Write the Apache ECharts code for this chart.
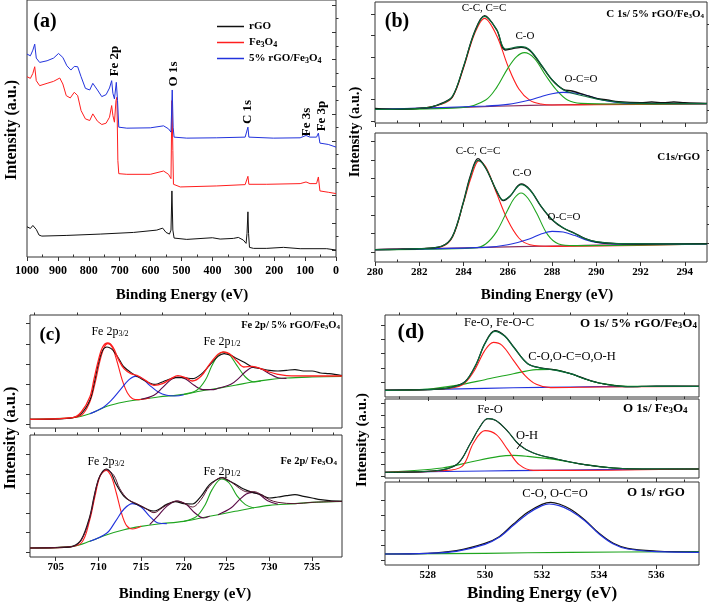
<!DOCTYPE html>
<html><head><meta charset="utf-8">
<script src="https://cdn.jsdelivr.net/npm/echarts@6/dist/echarts.min.js"></script>
<style>html,body{margin:0;padding:0;background:#fff}#c{width:709px;height:603px}</style>
</head><body><div id="c"></div>
<script>
// ===== (a) XPS survey spectra: [binding energy (eV), intensity (a.u.)] =====
const surveyRGO = [[1000,91],[989,86],[981,95],[975,99],[970,83],[961,66],[952,63],[871,65],[763,69],[655,74],[580,81],[561,87],[550,74],[539,69],[534,81],[531,199],[528,81],[524,57],[483,53],[400,58],[375,54],[332,56],[316,59],[300,51],[291,41],[288,71],[285,136],[283,71],[280,29],[267,26],[224,26],[170,29],[116,25],[30,25],[0,21]];
const surveyFe3O4 = [[1000,543],[989,538],[981,553],[975,573],[970,531],[959,516],[935,523],[914,529],[894,539],[884,521],[873,486],[860,479],[847,496],[836,486],[825,441],[811,416],[797,411],[787,431],[781,433],[772,409],[758,399],[744,403],[733,421],[726,456],[722,426],[717,406],[712,471],[709,481],[706,291],[703,251],[677,249],[601,249],[558,259],[542,249],[534,236],[531,471],[528,321],[526,219],[504,211],[386,214],[294,218],[289,221],[285,243],[282,219],[224,219],[116,221],[97,226],[84,221],[63,221],[57,241],[52,199],[25,195],[19,199],[0,191]];
const survey5 = [[1000,611],[989,606],[981,623],[975,641],[970,599],[959,586],[935,591],[914,599],[898,613],[884,601],[871,576],[858,563],[847,574],[836,573],[825,543],[811,508],[797,503],[787,523],[781,526],[772,503],[758,483],[744,489],[733,509],[726,531],[722,493],[717,476],[711,526],[707,471],[703,391],[677,388],[601,389],[558,395],[542,386],[534,376],[530,503],[527,391],[524,361],[483,358],[386,359],[294,361],[289,363],[285,391],[282,361],[203,358],[116,359],[97,366],[84,361],[63,361],[57,373],[52,343],[25,339],[0,331]];
const surveyNames = ['rGO','Fe3O4','5% rGO/Fe3O4'];

// ===== (b) C 1s =====
const c1sCompRaw = [[280,44],[281,41],[282,44],[282.5,47],[283,59],[283.5,79],[284,169],[284.5,274],[284.95,322],[285.5,279],[285.9,219],[286.6,227],[287,217],[287.5,174],[288,129],[288.5,101],[288.9,96],[289.5,84],[290,74],[290.5,69],[291,64],[292,61],[292.5,63],[293,61],[293.5,63],[294,61],[295,59]];
const c1sCompFit = [[280,41],[282,44],[283,57],[283.5,80],[284,170],[284.5,272],[284.95,320],[285.5,280],[285.9,222],[286.6,229],[287,219],[287.5,176],[288,130],[288.5,100],[289,88],[289.5,80],[290,72],[291,62],[292,59],[295,58]];
const c1sCompCC = [[280,41],[282,44],[283,56],[283.5,77],[284,165],[284.5,268],[284.95,314],[285.5,262],[286,172],[286.5,102],[287,68],[287.5,57],[288,54],[290,55],[295,57]];
const c1sCompCO = [[280,41],[284,47],[285,69],[285.5,107],[286,164],[286.4,199],[286.75,211],[287.2,194],[287.7,144],[288.2,99],[288.7,69],[289.3,59],[291,57],[295,58]];
const c1sCompOCO = [[280,41],[285,51],[286,56],[287,69],[287.5,79],[288,88],[288.5,92],[289,90],[289.5,84],[290,74],[290.5,66],[291.5,59],[295,58]];
const c1sCompBg = [[280,41],[284,47],[287,53],[290,56],[295,58]];
const c1sRgoRaw = [[280,37],[281,38],[282,40],[283,47],[283.5,77],[284,182],[284.3,257],[284.65,310],[285,282],[285.5,212],[285.8,184],[286.1,197],[286.6,234],[287,217],[287.5,167],[288,127],[288.5,102],[289,87],[289.5,70],[290,60],[291,55],[292,54],[295,55]];
const c1sRgoFit = [[280,37],[282,40],[283,47],[283.5,76],[284,180],[284.3,254],[284.65,305],[285,282],[285.5,213],[285.8,186],[286.1,198],[286.6,232],[287,216],[287.5,168],[288,128],[288.5,103],[289,86],[289.5,70],[290,61],[291,55],[295,54]];
const c1sRgoCC = [[280,37],[282,40],[283,46],[283.5,74],[284,178],[284.35,255],[284.7,304],[285.05,280],[285.5,205],[286,125],[286.5,72],[287,52],[288,47],[295,54]];
const c1sRgoCO = [[280,37],[284.5,42],[285,54],[285.5,92],[286,157],[286.3,192],[286.6,207],[286.9,192],[287.3,147],[287.8,82],[288.3,54],[289,49],[295,54]];
const c1sRgoOCO = [[280,37],[285,44],[286,52],[287,70],[287.5,84],[288,92],[288.5,90],[289,80],[289.5,67],[290,59],[291,54],[295,54]];
const c1sRgoBg = [[280,37],[285,44],[288,48],[290,51],[295,54]];

// ===== (c) Fe 2p =====
const fe2pCompRaw = [[702,26],[705,27],[707,31],[708,43],[709,83],[709.5,133],[710,193],[710.5,233],[711,243],[711.5,238],[712,223],[712.5,203],[713,183],[714,163],[715,148],[716,135],[716.5,131],[717,133],[718,143],[719,151],[720,151],[721,148],[722,161],[723,188],[724,215],[724.7,223],[725.5,218],[726,211],[727,198],[728,183],[729,178],[730,173],[731,171],[732,173],[733,175],[734,171],[735,171],[736,165],[737,163],[738.5,157]];
const fe2pCompFit = [[702,26],[707,31],[708,48],[709,93],[709.5,148],[710,203],[710.5,243],[711.1,255],[711.7,243],[712.3,208],[713,178],[713.8,163],[714.5,158],[715.5,143],[716.5,128],[717.5,133],[718.5,148],[719.3,157],[720.2,151],[721,141],[722,155],[723,191],[724,221],[724.6,228],[725.3,223],[726.2,201],[727,183],[728,185],[729,178],[730,168],[731,161],[732,157],[735,156],[738.5,156]];
const fe2pCompP1 = [[702,26],[706,29],[708,38],[709,78],[709.6,133],[710.2,203],[710.7,243],[711.1,253],[711.6,243],[712.2,198],[712.8,143],[713.4,105],[714,88],[714.7,85],[716,90]];
const fe2pCompP2 = [[709,43],[710.5,61],[711.5,83],[712.5,113],[713.5,143],[714.3,155],[715,151],[716,128],[717,108],[718,98],[719,96],[720,100]];
const fe2pCompP3 = [[715,86],[716.5,98],[717.5,121],[718.5,145],[719.3,153],[720.2,147],[721.2,128],[722.2,115],[723.5,115],[724,119]];
const fe2pCompP4 = [[720,101],[721.5,113],[722.5,143],[723.3,188],[724,218],[724.6,228],[725.3,221],[726.2,188],[727.2,153],[728.2,138],[729,141]];
const fe2pCompP5 = [[724,119],[725.5,131],[726.5,151],[727.3,171],[728.2,183],[729,178],[730,163],[731,151],[732,149]];
const fe2pCompBg = [[702,26],[707,31],[709,43],[711,65],[713,78],[715,86],[717,93],[720,101],[722,111],[724,119],[726,128],[728,138],[730,145],[732,150],[735,153],[738.5,155]];
const fe2pFeRaw = [[702,27],[706,29],[707,32],[708,52],[709,122],[709.5,182],[710,232],[710.5,257],[710.9,264],[711.5,252],[712,222],[713,182],[714,164],[715,152],[716,140],[716.5,138],[717,142],[718,158],[719,166],[720,160],[721,159],[722,182],[723,217],[724,234],[724.5,238],[725,232],[726,219],[727,204],[728,194],[729,187],[730,177],[731,180],[732,184],[733,187],[734,182],[735,177],[736,172],[737,169],[738.5,167]];
const fe2pFeFit = [[702,27],[707,32],[708,50],[709,118],[710,232],[710.9,262],[711.8,245],[712.5,205],[713.5,172],[714.5,160],[715.5,146],[716.5,133],[717.5,148],[718.5,163],[719.2,168],[720,162],[721,150],[722,172],[723,212],[724.4,238],[725.5,226],[726.5,206],[727.5,195],[728.2,196],[729,188],[730,172],[731,164],[733,160],[735,164],[738.5,167]];
const fe2pFeP1 = [[702,27],[706,29],[708,42],[709,112],[709.6,182],[710.2,242],[710.9,260],[711.5,242],[712.1,192],[712.7,132],[713.3,94],[714,84],[715,92]];
const fe2pFeP2 = [[709,47],[711,72],[712,107],[713,144],[714,160],[715,150],[716,122],[717,102],[718,100]];
const fe2pFeP3 = [[716,97],[717,124],[718,152],[719.2,168],[720.3,157],[721.3,132],[722.3,117],[723,122]];
const fe2pFeP4 = [[720,107],[721.5,122],[722.5,157],[723.3,202],[724.4,234],[725.3,222],[726.2,184],[727.2,157],[728.2,147]];
const fe2pFeP5 = [[724,127],[725.5,147],[726.5,172],[727.3,189],[728,194],[728.8,188],[729.8,169],[731,158]];
const fe2pFeBg = [[702,27],[707,32],[709,47],[711,67],[713,82],[715,92],[717,99],[720,107],[722,117],[724,127],[726,137],[728,147],[730,155],[733,160],[735,164],[738.5,167]];

// ===== (d) O 1s =====
const o1sCompRaw = [[526.5,21],[528,22],[528.8,29],[529.3,46],[529.7,99],[530,161],[530.35,199],[530.7,183],[531,151],[531.5,100],[532,87],[532.5,81],[533,70],[533.5,55],[534,42],[534.5,35],[535,31],[536,33],[537.5,32]];
const o1sCompFit = [[526.5,20],[528,22],[528.8,28],[529.3,45],[529.7,100],[530,160],[530.35,197],[530.7,182],[531,150],[531.5,100],[532,86],[532.5,80],[533,70],[533.5,54],[534,42],[534.5,34],[535,31],[536,32],[537.5,32]];
const o1sCompP1 = [[526.5,20],[528.5,24],[529.2,36],[529.6,75],[530,140],[530.3,164],[530.6,155],[531,110],[531.4,65],[531.8,38],[532.3,28],[534,30],[537.5,32]];
const o1sCompP2 = [[526.5,20],[528,24],[529,35],[530,52],[531,70],[531.8,82],[532.3,83],[533,70],[533.5,54],[534,42],[535,32],[537.5,32]];
const o1sCompBg = [[526.5,20],[530,26],[532,29],[534,31],[537.5,32]];
const o1sFeFit = [[526.5,17],[528,20],[529,40],[529.5,105],[529.8,150],[530.1,178],[530.4,172],[530.8,140],[531.2,100],[531.7,75],[532.5,57],[533.5,40],[534.5,30],[535.5,27],[537.5,27]];
const o1sFeP1 = [[526.5,17],[528.5,22],[529.2,35],[529.6,105],[530,142],[530.4,130],[530.8,85],[531.2,40],[531.7,23],[533,23],[537.5,27]];
const o1sFeP2 = [[526.5,17],[528.5,30],[529.5,48],[530.5,65],[531,68],[531.5,65],[532.5,55],[533.5,40],[534.5,30],[535.5,27],[537.5,27]];
const o1sFeBg = [[526.5,17],[530,21],[532,23],[534,25],[537.5,27]];
const o1sRgoRaw = [[526.5,33],[528,35],[529,43],[530,65],[530.5,85],[531,123],[531.5,158],[532,182],[532.3,188],[532.6,183],[533,167],[533.5,135],[534,95],[534.5,65],[535,50],[536,42],[537.5,38]];
const o1sRgoP = [[526.5,33],[528,35],[529,41],[530,62],[530.5,83],[531,119],[531.5,154],[532,178],[532.25,183],[532.6,178],[533,163],[533.5,133],[534,93],[534.5,63],[535,48],[536,40],[537.5,38]];
const o1sRgoBg = [[526.5,33],[530,35],[533,38],[537.5,40]];

// ===== styling / layout =====
const SERIF = "'Liberation Serif','Times New Roman',serif";
const FRAME = '#333';
const C = {black:'#111', red:'#ff1e1e', blue:'#2233dd', green:'#1fa51f', dgreen:'#0a6a3a', purple:'#5a0a46', bg:'#8a3060', maroon:'#5a1430'};
function seq(a, step, n){ const r=[]; for(let k=0;k<n;k++) r.push(+(a+step*k).toFixed(2)); return r; }

const grids=[], xAxes=[], yAxes=[], series=[], graphic=[];
function addPanel(p){
  const gi = grids.length;
  grids.push({left:p.left, top:p.top, width:p.width, height:p.height, show:true, borderColor:FRAME, borderWidth:1, backgroundColor:'rgba(0,0,0,0)'});
  const ymax = p.height*3;
  const xb = {type:'value', gridIndex:gi, min:p.x[0], max:p.x[1], inverse:!!p.inv, splitLine:{show:false}, axisLine:{show:false}};
  const yb = {type:'value', gridIndex:gi, min:0, max:ymax, splitLine:{show:false}, axisLine:{show:false}};
  const xi = xAxes.length, yi = yAxes.length;
  xAxes.push(Object.assign({}, xb, {axisTick:{show:true, length:4, lineStyle:{color:FRAME}, customValues:p.xmaj},
    axisLabel:{show:!!p.labels, customValues:p.xmaj, formatter:v=>String(v), fontFamily:SERIF, fontWeight:'bold', fontSize:p.xfs||11, color:'#000', margin:p.xm||5}}));
  if (p.xmin) xAxes.push(Object.assign({}, xb, {axisTick:{show:true, length:2.5, lineStyle:{color:FRAME}, customValues:p.xmin}, axisLabel:{show:false}}));
  yAxes.push(Object.assign({}, yb, {axisTick:{show:true, length:4, lineStyle:{color:FRAME}, customValues:p.ymaj}, axisLabel:{show:false}}));
  if (p.ymin) yAxes.push(Object.assign({}, yb, {axisTick:{show:true, length:2.5, lineStyle:{color:FRAME}, customValues:p.ymin}, axisLabel:{show:false}}));
  return {xi, yi};
}
function line(ax, data, color, o={}){
  series.push({type:'line', name:o.name, xAxisIndex:ax.xi, yAxisIndex:ax.yi, data, symbol:'none',
    smooth:o.smooth===undefined?0.35:o.smooth, lineStyle:{color, width:o.w||1.1}, itemStyle:{color}, z:o.z||2, silent:true, animation:false});
}
function txt(x, y, text, o={}){
  const fs = o.fs||12;
  graphic.push({type:'text', x, y, rotation:o.rot||0, z:100, silent:true,
    style:{text, fontSize:fs, fontFamily:SERIF, fontWeight:o.bold?'bold':'normal', fill:'#000',
      align:o.align||'center', verticalAlign:'middle', textAlign:o.align||'center', textVerticalAlign:'middle',
      rich:{s:{fontSize:Math.round(fs*0.68), fontFamily:SERIF, fontWeight:o.bold?'bold':'normal', verticalAlign:'bottom'}}}});
}

// (a)
const A = addPanel({left:27, top:-1, width:309, height:258, x:[0,1000], inv:true,
  xmaj:seq(0,100,11), xmin:seq(50,100,10), labels:true, xfs:12, xm:8,
  ymaj:seq(21,82,10), ymin:seq(62,82,9)});
line(A, surveyRGO, C.black, {name:surveyNames[0], smooth:false, w:1});
line(A, surveyFe3O4, C.red, {name:surveyNames[1], smooth:false, w:1});
line(A, survey5, C.blue, {name:surveyNames[2], smooth:false, w:1});
// (b)
const B1 = addPanel({left:375, top:2, width:332, height:121, x:[280,295], xmaj:seq(280,2,8), xmin:seq(281,2,7),
  ymaj:seq(6,64.2,6), ymin:seq(38,64.2,5)});
const B2 = addPanel({left:375, top:133, width:332, height:129, x:[280,295], xmaj:seq(280,2,8), xmin:seq(281,2,7), labels:true,
  ymaj:seq(30,55.3,7), ymin:seq(57.6,55.3,6)});
[[B1,c1sCompBg,c1sCompCC,c1sCompCO,c1sCompOCO,c1sCompFit,c1sCompRaw],[B2,c1sRgoBg,c1sRgoCC,c1sRgoCO,c1sRgoOCO,c1sRgoFit,c1sRgoRaw]].forEach(([ax,bg,cc,co,oco,fit,raw])=>{
  line(ax,bg,C.bg); line(ax,cc,C.red); line(ax,co,C.green); line(ax,oco,C.blue);
  line(ax,raw,C.black,{w:1.3}); line(ax,fit,C.dgreen,{w:1.1,z:3});
});
// (c)
const C1 = addPanel({left:30, top:315, width:312, height:113, x:[702,738.5], xmaj:seq(705,5,7), xmin:seq(702.5,5,8),
  ymaj:seq(11,60.4,6)});
const C2 = addPanel({left:30, top:435, width:312, height:122, x:[702,738.5], xmaj:seq(705,5,7), xmin:seq(702.5,5,8), labels:true,
  ymaj:seq(15,58.4,6)});
line(C1,fe2pCompBg,C.green); line(C1,fe2pCompP1,C.red); line(C1,fe2pCompP2,C.blue); line(C1,fe2pCompP3,C.purple);
line(C1,fe2pCompP4,C.green); line(C1,fe2pCompP5,C.purple); line(C1,fe2pCompRaw,C.black,{w:1.1}); line(C1,fe2pCompFit,C.red,{w:1.3,z:3});
line(C2,fe2pFeBg,C.green); line(C2,fe2pFeP1,C.red); line(C2,fe2pFeP2,C.blue); line(C2,fe2pFeP3,C.purple);
line(C2,fe2pFeP4,C.green); line(C2,fe2pFeP5,C.purple); line(C2,fe2pFeRaw,C.black,{w:1.2}); line(C2,fe2pFeFit,C.maroon,{w:1,z:3});
// (d)
const D1 = addPanel({left:385, top:315, width:314, height:82, x:[526.5,537.5], xmaj:seq(528,2,5), xmin:seq(527,2,6), ymaj:seq(45,42.5,5)});
const D2 = addPanel({left:385, top:399, width:314, height:79, x:[526.5,537.5], xmaj:seq(528,2,5), xmin:seq(527,2,6), ymaj:seq(5,36.7,7)});
const D3 = addPanel({left:385, top:482, width:314, height:83, x:[526.5,537.5], xmaj:seq(528,2,5), xmin:seq(527,2,6), labels:true, ymaj:seq(15,45,5)});
line(D1,o1sCompBg,C.blue); line(D1,o1sCompP2,C.green); line(D1,o1sCompP1,C.red); line(D1,o1sCompRaw,C.black,{w:1.2}); line(D1,o1sCompFit,C.dgreen,{w:1.2,z:3});
line(D2,o1sFeBg,C.blue); line(D2,o1sFeP2,C.green); line(D2,o1sFeP1,C.red); line(D2,o1sFeFit,C.black,{w:1.2}); line(D2,o1sFeFit,C.dgreen,{w:1,z:3});
line(D3,o1sRgoBg,C.green); line(D3,o1sRgoRaw,C.black,{w:1.2}); line(D3,o1sRgoP,C.blue,{w:1.2,z:3});

// ===== texts =====
const R90 = Math.PI/2;
// (a)
txt(45,22,'(a)',{bold:true,fs:20});
txt(115,61,'Fe 2p',{bold:true,fs:13,rot:R90});
txt(174,74,'O 1s',{bold:true,fs:13,rot:R90});
txt(248,112,'C 1s',{bold:true,fs:13,rot:R90});
txt(307,122,'Fe 3s',{bold:true,fs:13,rot:R90});
txt(322,116,'Fe 3p',{bold:true,fs:13,rot:R90});
txt(12,130,'Intensity (a.u.)',{bold:true,fs:16,rot:R90});
txt(182,295,'Binding Energy (eV)',{bold:true,fs:15});
// (b)
txt(397,22,'(b)',{bold:true,fs:20});
txt(484,8,'C-C, C=C',{fs:11});
txt(525,36,'C-O',{fs:11});
txt(581,79,'O-C=O',{fs:11});
txt(704,14,'C 1s/ 5% rGO/Fe{s|3}O{s|4}',{bold:true,fs:11,align:'right'});
txt(478,151,'C-C, C=C',{fs:11});
txt(522,173,'C-O',{fs:11});
txt(564,217,'O-C=O',{fs:11});
txt(700,157,'C1s/rGO',{bold:true,fs:11,align:'right'});
txt(355,132,'Intensity (a.u.)',{bold:true,fs:14.5,rot:R90});
txt(547,295,'Binding Energy (eV)',{bold:true,fs:15});
// (c)
txt(50,335,'(c)',{bold:true,fs:19});
txt(110,332,'Fe 2p{s|3/2}',{fs:12});
txt(222,342,'Fe 2p{s|1/2}',{fs:12});
txt(340,325,'Fe 2p/ 5% rGO/Fe{s|3}O{s|4}',{bold:true,fs:10.5,align:'right'});
txt(106,462,'Fe 2p{s|3/2}',{fs:12});
txt(222,472,'Fe 2p{s|1/2}',{fs:12});
txt(337,461,'Fe 2p/ Fe{s|3}O{s|4}',{bold:true,fs:10.5,align:'right'});
txt(11,438,'Intensity (a.u.)',{bold:true,fs:16.5,rot:R90});
txt(185,594,'Binding Energy (eV)',{bold:true,fs:15});
// (d)
txt(411,332,'(d)',{bold:true,fs:22});
txt(499,323,'Fe-O, Fe-O-C',{fs:12.5});
txt(572,357,'C-O,O-C=O,O-H',{fs:12.5});
txt(580,324,'O 1s/ 5% rGO/Fe{s|3}O{s|4}',{bold:true,fs:13,align:'left'});
txt(490,410,'Fe-O',{fs:12.5});
txt(527,436,'O-H',{fs:12.5});
txt(623,409,'O 1s/ Fe{s|3}O{s|4}',{bold:true,fs:13,align:'left'});
txt(555,494,'C-O, O-C=O',{fs:12.5});
txt(627,493,'O 1s/ rGO',{bold:true,fs:13,align:'left'});
txt(362,440,'Intensity (a.u.)',{bold:true,fs:15,rot:R90});
txt(542,594,'Binding Energy (eV)',{bold:true,fs:17});
graphic.push({type:'line', shape:{x1:522,y1:442,x2:517,y2:449}, style:{stroke:'#000', lineWidth:1}, z:100});

const chart = echarts.init(document.getElementById('c'), null, {renderer:'canvas'});
chart.setOption({
  animation:false, backgroundColor:'#fff',
  grid:grids, xAxis:xAxes, yAxis:yAxes, series, graphic,
  legend:{data:surveyNames, left:212, top:15, orient:'vertical', icon:'rect', itemWidth:27, itemHeight:1.5, itemGap:3,
    formatter:n=>n.replace('Fe3O4','Fe{s|3}O{s|4}'),
    textStyle:{fontFamily:SERIF, fontWeight:'bold', fontSize:11, color:'#000', lineHeight:13,
      rich:{s:{fontFamily:SERIF, fontWeight:'bold', fontSize:8, verticalAlign:'bottom'}}}}
});
</script></body></html>
